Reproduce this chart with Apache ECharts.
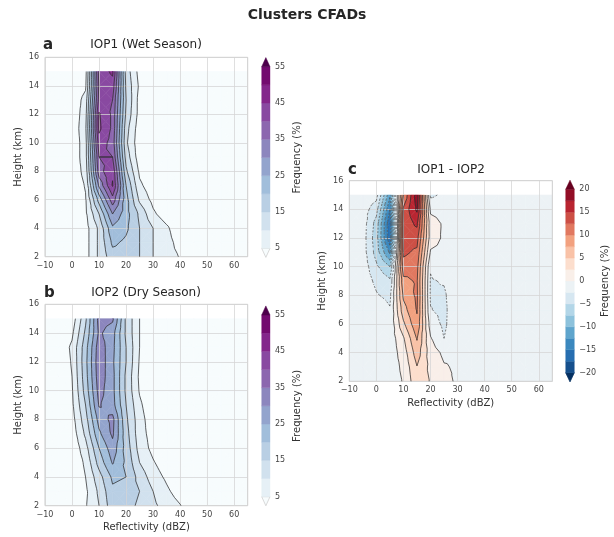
<!DOCTYPE html>
<html>
<head>
<meta charset="utf-8">
<script src="https://cdn.jsdelivr.net/npm/echarts@6/dist/echarts.min.js"></script>
<style>
  html, body { margin: 0; background: #fff; }
  #chart { width: 614px; height: 537px; }
</style>
</head>
<body>
<div id="chart"></div>
<script>
// grid of the CFADs: reflectivity bins (dBZ) x heights (km)
const reflectivity = [-10, -5, 0, 5, 10, 15, 20, 25, 30, 35, 40, 45, 50, 55, 60, 65];
const heights = [2, 3, 4, 5, 6, 7, 8, 9, 10, 11, 12, 13, 14, 15];

// frequency (%) rows, one per height (bottom to top), columns follow reflectivity
const freqWet = [
  [0, 0, 0, 3, 11, 18, 18, 15, 10, 7, 4.7, 0, 0, 0, 0, 0],
  [0, 0, 0, 3, 11, 21, 19, 15, 10, 7, 3, 0, 0, 0, 0, 0],
  [0, 0, 0, 3, 11, 24, 21, 15, 10, 6, 1, 0, 0, 0, 0, 0],
  [0, 0, 0, 4, 15, 30, 22, 14, 6, 2, 0, 0, 0, 0, 0, 0],
  [0, 0, 0, 4.5, 22, 38, 22, 9, 3.5, 0, 0, 0, 0, 0, 0, 0],
  [0, 0, 0.5, 5.5, 31, 45.5, 20, 6, 2, 0, 0, 0, 0, 0, 0, 0],
  [0, 0, 1, 7, 38, 44, 16, 4, 0.5, 0, 0, 0, 0, 0, 0, 0],
  [0, 0, 1, 8, 40, 40, 13, 2, 0, 0, 0, 0, 0, 0, 0, 0],
  [0, 0, 1, 8, 43, 38, 11, 1.5, 0, 0, 0, 0, 0, 0, 0, 0],
  [0, 0, 1, 9, 46, 39, 12, 2, 0, 0, 0, 0, 0, 0, 0, 0],
  [0, 0, 1, 8, 45.5, 39, 14, 3, 0, 0, 0, 0, 0, 0, 0, 0],
  [0, 0, 1, 7, 42, 40, 15, 3, 0, 0, 0, 0, 0, 0, 0, 0],
  [0, 0, 0, 4, 41, 43, 14, 4, 0, 0, 0, 0, 0, 0, 0, 0],
  [0, 0, 0, 3, 42, 46, 13, 3, 0, 0, 0, 0, 0, 0, 0, 0]
];

const freqDry = [
  [0, 0, 0, 4.5, 10, 18, 17, 14, 11, 8, 5.3, 0, 0, 0, 0, 0],
  [0, 0, 0, 4, 11, 19, 18, 15, 10, 6, 2.5, 0, 0, 0, 0, 0],
  [0, 0, 0, 5, 13, 21, 20, 13, 7.5, 4, 0.5, 0, 0, 0, 0, 0],
  [0, 0, 0.5, 6, 17, 25.5, 19, 10, 5.5, 2, 0, 0, 0, 0, 0, 0],
  [0, 0, 1, 8, 20, 28, 18, 8, 3.5, 0, 0, 0, 0, 0, 0, 0],
  [0, 0, 2, 11, 24, 31, 17, 7, 3, 0, 0, 0, 0, 0, 0, 0],
  [0, 0, 3, 13, 27, 31.5, 16, 7, 2, 0, 0, 0, 0, 0, 0, 0],
  [0, 0, 4, 15, 30.5, 27, 15, 6, 1, 0, 0, 0, 0, 0, 0, 0],
  [0, 0, 4.5, 17, 32, 26.5, 14, 4.5, 0, 0, 0, 0, 0, 0, 0, 0],
  [0, 0.5, 5, 18, 33, 26.5, 14, 4, 0, 0, 0, 0, 0, 0, 0, 0],
  [0, 0.5, 5.5, 18.5, 33.5, 26, 15, 4.5, 0, 0, 0, 0, 0, 0, 0, 0],
  [0, 1, 6, 18, 33, 26.5, 15, 5, 0.5, 0, 0, 0, 0, 0, 0, 0],
  [0, 0, 4, 16, 31, 27, 14, 5, 1, 0, 0, 0, 0, 0, 0, 0],
  [0, 0, 2, 14, 32, 31, 14, 5, 1, 0, 0, 0, 0, 0, 0, 0]
];

const freqDiff = [
  [-0.3, -0.3, -0.6, -1.5, 0.2, 4.3, 2.3, 0.6, -0.3, -0.3, -0.3, -0.3, -0.3, -0.3, -0.3, -0.3],
  [-0.3, -0.3, -0.6, -1.5, 0.6, 4.9, 1.8, 0.2, -0.3, -0.3, -0.3, -0.3, -0.3, -0.3, -0.3, -0.3],
  [-0.3, -0.3, -0.6, -1.5, 1.2, 6.3, 1.2, -0.5, -0.3, -0.3, -0.3, -0.3, -0.3, -0.3, -0.3, -0.3],
  [-0.3, -0.3, -0.6, -1.6, 2.2, 7.7, 0.2, -2.5, -0.4, -0.3, -0.3, -0.3, -0.3, -0.3, -0.3, -0.3],
  [-0.3, -0.3, -0.6, -1.9, 4.5, 9.5, -1.2, -3, -0.5, -0.3, -0.3, -0.3, -0.3, -0.3, -0.3, -0.3],
  [-0.3, -0.4, -1, -2.3, 6.5, 10.2, -2.4, -3.1, -0.5, -0.3, -0.3, -0.3, -0.3, -0.3, -0.3, -0.3],
  [-0.3, -0.8, -2.3, -3.1, 8, 10.5, -2.8, -2.9, -0.5, -0.3, -0.3, -0.3, -0.3, -0.3, -0.3, -0.3],
  [-0.3, -1.2, -3, -4.5, 9.3, 10.3, -2.7, -2.3, -0.4, -0.3, -0.3, -0.3, -0.3, -0.3, -0.3, -0.3],
  [-0.3, -1, -4.5, -7.5, 11.5, 10.8, -2.3, -1, -0.3, -0.3, -0.3, -0.3, -0.3, -0.3, -0.3, -0.3],
  [-0.3, -1.3, -6, -13, 13, 12, -0.3, -0.5, -0.3, -0.3, -0.3, -0.3, -0.3, -0.3, -0.3, -0.3],
  [-0.3, -1.3, -6.5, -17, 13.5, 13.5, 1.2, -0.4, -0.3, -0.3, -0.3, -0.3, -0.3, -0.3, -0.3, -0.3],
  [-0.3, -1.2, -6, -17.2, 13.5, 15.5, 1, -0.3, -0.3, -0.3, -0.3, -0.3, -0.3, -0.3, -0.3, -0.3],
  [-0.3, -1.2, -4, -15, 13, 18, -0.5, -0.8, -0.3, -0.3, -0.3, -0.3, -0.3, -0.3, -0.3, -0.3],
  [-0.3, -0.5, -1.5, -12, 10, 19, -3, -2, -0.3, -0.3, -0.3, -0.3, -0.3, -0.3, -0.3, -0.3]
];

const freqLevels = [5, 10, 15, 20, 25, 30, 35, 40, 45, 50, 55];
const diffLevels = [-20, -17.5, -15, -12.5, -10, -7.5, -5, -2.5, 0, 2.5, 5, 7.5, 10, 12.5, 15, 17.5, 20];

// BuPu and RdBu_r, one colour per band (below first level ... above last level)
const buPu = ['#f7fcfd', '#e6f0f6', '#d1e1ee', '#b9cfe4', '#a1bedb', '#93a4cd',
  '#8c86be', '#8c67af', '#8949a1', '#84268b', '#730b6f', '#4d004b'];
const rdBuR = ['#053061', '#16508d', '#276eb0', '#3b88be', '#5fa5cd', '#8dc2dc',
  '#b3d6e8', '#d6e7f1', '#ecf2f5', '#f9efe9', '#fcdecd', '#f9c2a7', '#f2a17f',
  '#e17860', '#cd4f45', '#b92531', '#930e26', '#67001f'];

const FONT = 'DejaVu Sans';
const minus = v => (v < 0 ? '\u2212' + Math.abs(v) : String(v));

const cells = [];
for (let j = 0; j < heights.length - 1; j++) {
  for (let i = 0; i < reflectivity.length - 1; i++) cells.push([i, j]);
}

// each cell split in 4 triangles around its centre
function cellTriangles(values, i, j) {
  const x0 = reflectivity[i], x1 = reflectivity[i + 1];
  const y0 = heights[j], y1 = heights[j + 1];
  const p00 = [x0, y0, values[j][i]];
  const p10 = [x1, y0, values[j][i + 1]];
  const p11 = [x1, y1, values[j + 1][i + 1]];
  const p01 = [x0, y1, values[j + 1][i]];
  const c = [(x0 + x1) / 2, (y0 + y1) / 2, (p00[2] + p10[2] + p11[2] + p01[2]) / 4];
  return [[p00, p10, c], [p10, p11, c], [p11, p01, c], [p01, p00, c]];
}

function clip(poly, level, keepAbove) {
  const out = [];
  for (let k = 0; k < poly.length; k++) {
    const a = poly[k], b = poly[(k + 1) % poly.length];
    const ina = keepAbove ? a[2] >= level : a[2] <= level;
    const inb = keepAbove ? b[2] >= level : b[2] <= level;
    if (ina) out.push(a);
    if (ina !== inb) {
      const t = (level - a[2]) / (b[2] - a[2]);
      out.push([a[0] + t * (b[0] - a[0]), a[1] + t * (b[1] - a[1]), level]);
    }
  }
  return out;
}

function contourFill(values, levels, colors) {
  return function (params, api) {
    const children = [];
    cellTriangles(values, api.value(0), api.value(1)).forEach(tri => {
      const vs = tri.map(p => p[2]);
      const vmin = Math.min(...vs), vmax = Math.max(...vs);
      for (let k = 0; k <= levels.length; k++) {
        const lo = k === 0 ? -Infinity : levels[k - 1];
        const hi = k === levels.length ? Infinity : levels[k];
        if (vmax < lo || vmin > hi) continue;
        let poly = tri;
        if (lo > -Infinity) poly = clip(poly, lo, true);
        if (poly.length >= 3 && hi < Infinity) poly = clip(poly, hi, false);
        if (poly.length < 3) continue;
        children.push({
          type: 'polygon',
          shape: { points: poly.map(p => api.coord([p[0], p[1]])) },
          style: { fill: colors[k], stroke: colors[k], lineWidth: 0.6 }
        });
      }
    });
    return { type: 'group', children };
  };
}

function contourLines(values, levels, dashNegative) {
  return function (params, api) {
    const children = [];
    cellTriangles(values, api.value(0), api.value(1)).forEach(tri => {
      levels.forEach(L => {
        const pts = [];
        for (let e = 0; e < 3; e++) {
          const a = tri[e], b = tri[(e + 1) % 3];
          if ((a[2] > L) !== (b[2] > L)) {
            const t = (L - a[2]) / (b[2] - a[2]);
            pts.push(api.coord([a[0] + t * (b[0] - a[0]), a[1] + t * (b[1] - a[1])]));
          }
        }
        if (pts.length !== 2) return;
        const dashed = dashNegative && L < 0;
        children.push({
          type: 'line',
          shape: { x1: pts[0][0], y1: pts[0][1], x2: pts[1][0], y2: pts[1][1] },
          style: {
            stroke: dashed ? '#555' : '#2e2e2e',
            lineWidth: 0.75,
            lineDash: dashed ? [2, 1.5] : null
          }
        });
      });
    });
    return { type: 'group', children };
  };
}

function colorbarItem(levels, colors, ext) {
  return function (params, api) {
    const k = api.value(0);
    const n = levels.length;
    if (k === 0) {
      const pts = [api.coord([0, levels[0]]), api.coord([1, levels[0]]), api.coord([0.5, levels[0] - ext])];
      return { type: 'polygon', shape: { points: pts },
        style: { fill: colors[0], stroke: colors[0] === '#f7fcfd' ? '#cfcfcf' : colors[0], lineWidth: 0.8 } };
    }
    if (k === n) {
      const pts = [api.coord([0, levels[n - 1]]), api.coord([1, levels[n - 1]]), api.coord([0.5, levels[n - 1] + ext])];
      return { type: 'polygon', shape: { points: pts }, style: { fill: colors[n], stroke: colors[n], lineWidth: 0.5 } };
    }
    const a = api.coord([0, levels[k - 1]]), b = api.coord([1, levels[k]]);
    return { type: 'rect', shape: { x: a[0], y: b[1], width: b[0] - a[0], height: a[1] - b[1] },
      style: { fill: colors[k], stroke: colors[k], lineWidth: 0.4 } };
  };
}

const grids = [
  { left: 45, top: 57.3, width: 202.7, height: 199.4 },
  { left: 45, top: 304.3, width: 202.7, height: 201.4 },
  { left: 349.3, top: 180.7, width: 203, height: 200.6 },
  { left: 261.7, top: 66.7, width: 8.3, height: 181.6 },
  { left: 261.7, top: 315, width: 8.3, height: 181.7 },
  { left: 565.7, top: 189.3, width: 8.6, height: 183.4 }
].map(g => Object.assign({ show: true, borderColor: '#cfcfcf', borderWidth: 1, z: 2 }, g));
grids[3].show = grids[4].show = grids[5].show = false;

const tickLabel = { fontSize: 8, color: '#444', fontFamily: FONT, formatter: minus };
const gridLine = { lineStyle: { color: 'rgba(212,212,212,0.75)', width: 1 } };
const nameStyle = { fontSize: 10, color: '#333', fontFamily: FONT };

const xAxes = [0, 1, 2].map(g => ({
  gridIndex: g, type: 'value', min: -10, max: 65, interval: 10, z: 2,
  axisLine: { show: false }, axisTick: { show: false }, splitLine: gridLine,
  axisLabel: Object.assign({ margin: 5, showMaxLabel: false }, tickLabel),
  name: g === 0 ? '' : 'Reflectivity (dBZ)', nameLocation: 'middle', nameGap: 17, nameTextStyle: nameStyle
}));
const yAxes = [0, 1, 2].map(g => ({
  gridIndex: g, type: 'value', min: 2, max: 16, interval: 2, z: 2,
  axisLine: { show: false }, axisTick: { show: false }, splitLine: gridLine,
  axisLabel: Object.assign({ margin: 6 }, tickLabel),
  name: 'Height (km)', nameLocation: 'middle', nameGap: 22, nameTextStyle: nameStyle
}));
[3, 4, 5].forEach(g => {
  xAxes.push({ gridIndex: g, type: 'value', min: 0, max: 1, show: false });
  const diff = g === 5;
  yAxes.push({
    gridIndex: g, type: 'value', position: 'right',
    min: diff ? -20 : 5, max: diff ? 20 : 55, interval: diff ? 5 : 10,
    axisLine: { show: false }, axisTick: { show: false }, splitLine: { show: false },
    axisLabel: Object.assign({ margin: 5 }, tickLabel),
    name: 'Frequency (%)', nameLocation: 'middle', nameGap: diff ? 26 : 22, nameRotate: 90, nameTextStyle: nameStyle
  });
});

const series = [];
[[freqWet, freqLevels, buPu, false], [freqDry, freqLevels, buPu, false], [freqDiff, diffLevels, rdBuR, true]]
  .forEach(([values, levels, colors, dash], g) => {
    series.push({ type: 'custom', xAxisIndex: g, yAxisIndex: g, data: cells, z: 1, silent: true,
      renderItem: contourFill(values, levels, colors) });
    series.push({ type: 'custom', xAxisIndex: g, yAxisIndex: g, data: cells, z: 3, silent: true,
      renderItem: contourLines(values, levels, dash) });
  });
[[3, freqLevels, buPu, 2.5], [4, freqLevels, buPu, 2.5], [5, diffLevels, rdBuR, 2]].forEach(([g, levels, colors, ext]) => {
  series.push({ type: 'custom', xAxisIndex: g, yAxisIndex: g, silent: true, clip: false,
    data: colors.map((c, k) => [k, 0]), renderItem: colorbarItem(levels, colors, ext) });
});

function label(text, x, y, size, bold, align) {
  return { type: 'text', x, y, z: 10, style: {
    text, fill: '#262626', font: (bold ? 'bold ' : '') + size + 'px "' + FONT + '"',
    textAlign: align, align, textVerticalAlign: 'middle', verticalAlign: 'middle' } };
}

const chart = echarts.init(document.getElementById('chart'));
chart.setOption({
  animation: false,
  backgroundColor: '#fff',
  grid: grids,
  xAxis: xAxes,
  yAxis: yAxes,
  series,
  graphic: [
    label('Clusters CFADs', 307, 15, 14, true, 'center'),
    label('a', 43, 45, 15, true, 'left'),
    label('IOP1 (Wet Season)', 146, 45, 12, false, 'center'),
    label('b', 44, 293, 15, true, 'left'),
    label('IOP2 (Dry Season)', 146, 293, 12, false, 'center'),
    label('c', 348, 170, 15, true, 'left'),
    label('IOP1 - IOP2', 451, 170, 12, false, 'center')
  ]
});
</script>
</body>
</html>
